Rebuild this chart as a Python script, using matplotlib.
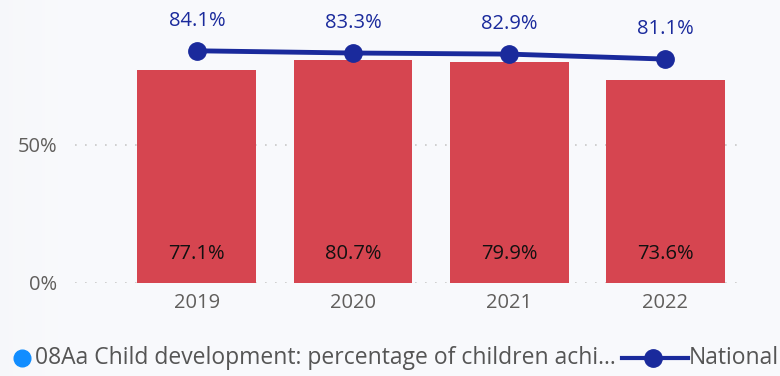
import matplotlib.pyplot as plt
import numpy as np
from matplotlib.lines import Line2D

plt.rcParams['font.family'] = ['Open Sans', 'DejaVu Sans']

years = ['2019', '2020', '2021', '2022']
local_pct = [77.1, 80.7, 79.9, 73.6]
national_pct = [84.1, 83.3, 82.9, 81.1]
yticks = [0, 50]
yticklabels = ['0%', '50%']
bar_label = '08Aa Child development: percentage of children achi...'
line_label = 'National'

bg = '#f8f9fc'
bar_color = '#d64550'
line_color = '#1a2a9c'

fig = plt.figure(figsize=(7.8, 3.76), dpi=100, facecolor=bg)

# soft shadow on the left edge
grad = fig.add_axes([0, 0, 0.09, 1])
grad.imshow(np.linspace(0, 1, 100).reshape(1, -1), cmap='Greys_r', aspect='auto',
            extent=[0, 1, 0, 1], vmin=-6, vmax=1, alpha=0.12)
grad.axis('off')

ax = fig.add_axes([75 / 780, (376 - 283) / 376, (745 - 75) / 780, 283 / 376])
ax.set_facecolor('none')
x = np.arange(len(years))
ax.bar(x, local_pct, width=0.76, color=bar_color, zorder=2)
ax.plot(x, national_pct, color=line_color, lw=3.5, marker='o', ms=12.5, zorder=3,
        solid_capstyle='round')

for xi, v in zip(x, local_pct):
    ax.text(xi, 10.5, f'{v:.1f}%', ha='center', va='center', fontsize=14.5, color='#111111', zorder=4)
for xi, v in zip(x, national_pct):
    ax.text(xi, v + 10.8, f'{v:.1f}%', ha='center', va='center', fontsize=14.5, color=line_color, zorder=4)

ax.set_xlim(-0.78, 3.51)
ax.set_ylim(0, 102.5)
ax.set_xticks(x)
ax.set_xticklabels(years)
ax.set_yticks(yticks)
ax.set_yticklabels(yticklabels)
ax.tick_params(axis='both', length=0, labelsize=14.5, labelcolor='#605e5c')
ax.tick_params(axis='y', pad=13)
ax.tick_params(axis='x', pad=7)
ax.grid(axis='y', color='#c8c8c8', linestyle=(0, (1, 5)), lw=1.2, zorder=0)
for s in ax.spines.values():
    s.set_visible(False)

# legend at the bottom
ly = 1 - 358 / 376
fig.text(35 / 780, ly, bar_label, fontsize=16.5, color='#555555', va='center', ha='left')
fig.add_artist(Line2D([22 / 780], [ly], marker='o', ms=12, color='#118dff',
                      transform=fig.transFigure))
fig.add_artist(Line2D([622 / 780, 688 / 780], [ly] * 2, color=line_color, lw=3,
                      transform=fig.transFigure))
fig.add_artist(Line2D([653 / 780], [ly], marker='o', ms=12.5, color=line_color,
                      transform=fig.transFigure))
fig.text(689 / 780, ly, line_label, fontsize=16.5, color='#555555', va='center', ha='left')

fig.savefig('out.png', dpi=100, facecolor=bg)
